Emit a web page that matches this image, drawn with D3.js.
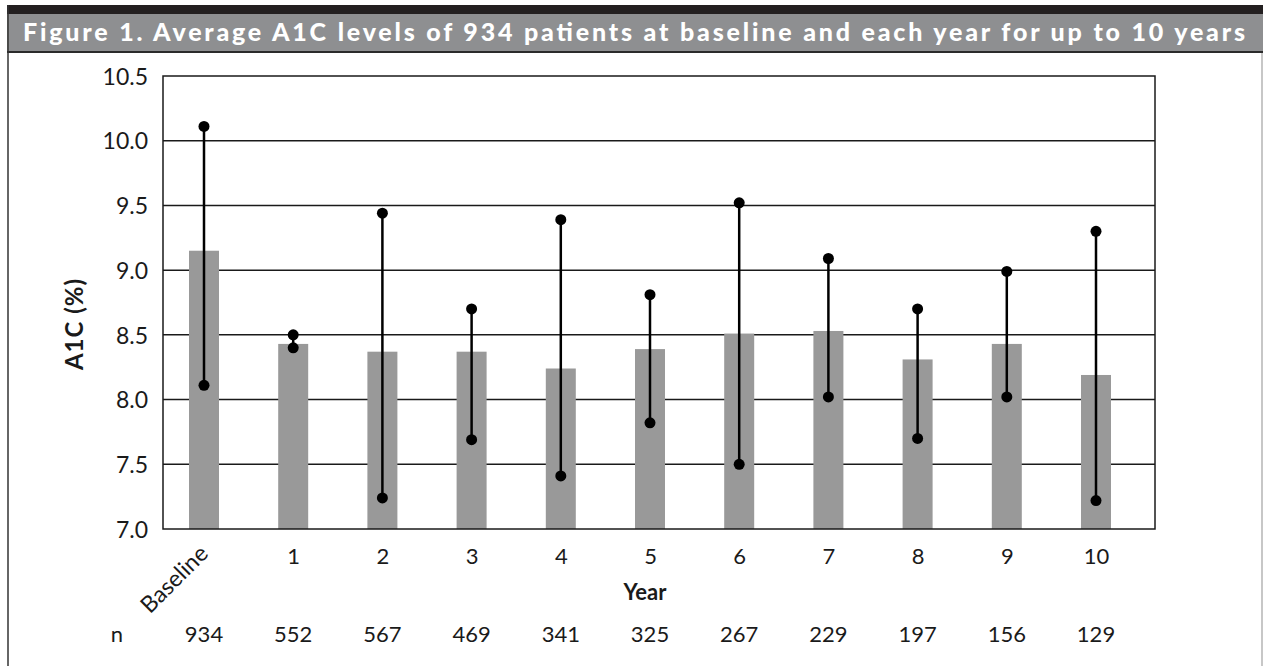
<!DOCTYPE html>
<html>
<head>
<meta charset="utf-8">
<script src="https://cdn.jsdelivr.net/npm/d3@7"></script>
<style>
  html, body { margin: 0; padding: 0; background: #fff; }
  svg { display: block; }
  text { font-family: Lato, "DejaVu Sans", sans-serif; fill: #1a1a1a; }
</style>
</head>
<body>
<svg id="chart" width="1263" height="666"></svg>
<script>
// Categories (x axis) and patient counts per year
const categories = ["Baseline", "1", "2", "3", "4", "5", "6", "7", "8", "9", "10"];
const patientCounts = [934, 552, 567, 469, 341, 325, 267, 229, 197, 156, 129];

// Average A1C (%) per year
const meanA1C = [9.15, 8.43, 8.37, 8.37, 8.24, 8.39, 8.51, 8.53, 8.31, 8.43, 8.19];
// Range endpoints drawn as whiskers
const upperA1C = [10.11, 8.50, 9.44, 8.70, 9.39, 8.81, 9.52, 9.09, 8.70, 8.99, 9.30];
const lowerA1C = [8.11, 8.40, 7.24, 7.69, 7.41, 7.82, 7.50, 8.02, 7.70, 8.02, 7.22];

// Y axis ticks
const yTicks = [7.0, 7.5, 8.0, 8.5, 9.0, 9.5, 10.0, 10.5];

const titleText = "Figure 1. Average A1C levels of 934 patients at baseline and each year for up to 10 years";

const svg = d3.select("#chart");
const W = 1263, H = 666;

// ---- Frame and title banner ----
svg.append("rect").attr("x", 7).attr("y", 5).attr("width", W - 7).attr("height", 9).attr("fill", "#231f20");
svg.append("rect").attr("x", 7).attr("y", 14).attr("width", W - 7).attr("height", 37).attr("fill", "#8e8f91");
svg.append("rect").attr("x", 7).attr("y", 51).attr("width", W - 7).attr("height", 2).attr("fill", "#2b2b2b");
svg.append("line").attr("x1", 8).attr("x2", 8).attr("y1", 5).attr("y2", H)
  .attr("stroke", "#333").attr("stroke-width", 1.5);
svg.append("line").attr("x1", 1262).attr("x2", 1262).attr("y1", 53).attr("y2", H)
  .attr("stroke", "#b5b5b5").attr("stroke-width", 1.5);

svg.append("text")
  .attr("x", 23).attr("y", 40.5)
  .attr("textLength", 1222).attr("lengthAdjust", "spacing")
  .style("font-size", "25px").style("font-weight", "900").style("fill", "#ffffff")
  .text(titleText);

// ---- Plot area ----
const plot = { left: 163, right: 1155, top: 76, bottom: 529 };

const y = d3.scaleLinear().domain([7.0, 10.5]).range([plot.bottom, plot.top]);
const x = d3.scalePoint().domain(categories).range([204, 1096]);
const barW = 30;

// horizontal gridlines
svg.append("g")
  .selectAll("line")
  .data(yTicks.filter(t => t > 7.0 && t < 10.5))
  .join("line")
  .attr("x1", plot.left).attr("x2", plot.right)
  .attr("y1", d => y(d)).attr("y2", d => y(d))
  .attr("stroke", "#1a1a1a").attr("stroke-width", 1.5);

// bars
svg.append("g")
  .selectAll("rect")
  .data(categories)
  .join("rect")
  .attr("x", d => x(d) - barW / 2)
  .attr("width", barW)
  .attr("y", (d, i) => y(meanA1C[i]))
  .attr("height", (d, i) => y(7.0) - y(meanA1C[i]))
  .attr("fill", "#999999");

// plot border
svg.append("rect")
  .attr("x", plot.left).attr("y", plot.top)
  .attr("width", plot.right - plot.left).attr("height", plot.bottom - plot.top)
  .attr("fill", "none").attr("stroke", "#1a1a1a").attr("stroke-width", 1.5);

// whiskers
const wg = svg.append("g");
wg.selectAll("line")
  .data(categories)
  .join("line")
  .attr("x1", d => x(d)).attr("x2", d => x(d))
  .attr("y1", (d, i) => y(upperA1C[i])).attr("y2", (d, i) => y(lowerA1C[i]))
  .attr("stroke", "#000").attr("stroke-width", 2.5);
wg.selectAll("circle.up")
  .data(categories)
  .join("circle").attr("class", "up")
  .attr("cx", d => x(d)).attr("cy", (d, i) => y(upperA1C[i])).attr("r", 5.5).attr("fill", "#000");
wg.selectAll("circle.lo")
  .data(categories)
  .join("circle").attr("class", "lo")
  .attr("cx", d => x(d)).attr("cy", (d, i) => y(lowerA1C[i])).attr("r", 5.5).attr("fill", "#000");

// ---- Y axis ----
const yAxis = d3.axisLeft(y).tickValues(yTicks).tickSize(0).tickPadding(0).tickFormat(d3.format(".1f"));
const yg = svg.append("g").attr("transform", `translate(148,0)`).call(yAxis);
yg.select(".domain").remove();
yg.selectAll("text")
  .attr("dy", "0.36em")
  .style("font-family", "Lato, sans-serif").style("font-size", "23px").style("fill", "#1a1a1a");

svg.append("text")
  .attr("transform", `translate(83,324) rotate(-90)`)
  .attr("text-anchor", "middle")
  .style("font-size", "24px").style("font-weight", "700").style("letter-spacing", "1px")
  .text("A1C (%)");

// ---- X axis ----
const xAxis = d3.axisBottom(x).tickSize(0).tickPadding(0);
const xg = svg.append("g").attr("transform", `translate(0,${plot.bottom})`).call(xAxis);
xg.select(".domain").remove();
xg.selectAll("text")
  .style("font-family", "Lato, sans-serif").style("font-size", "22px").style("fill", "#1a1a1a")
  .attr("y", 35).attr("dy", 0);
xg.selectAll(".tick").filter(d => d === "Baseline").select("text")
  .attr("text-anchor", "end")
  .attr("y", 0)
  .style("font-size", "23px")
  .attr("transform", "translate(5,26) rotate(-45)");

svg.append("text")
  .attr("x", 645).attr("y", 600)
  .attr("text-anchor", "middle")
  .style("font-size", "22px").style("font-weight", "700")
  .text("Year");

// ---- n row ----
svg.append("text")
  .attr("x", 117).attr("y", 642)
  .attr("text-anchor", "middle")
  .style("font-size", "22px")
  .text("n");
svg.append("g")
  .selectAll("text")
  .data(categories)
  .join("text")
  .attr("x", d => x(d)).attr("y", 642)
  .attr("text-anchor", "middle")
  .style("font-size", "22px")
  .text((d, i) => patientCounts[i]);
</script>
</body>
</html>
